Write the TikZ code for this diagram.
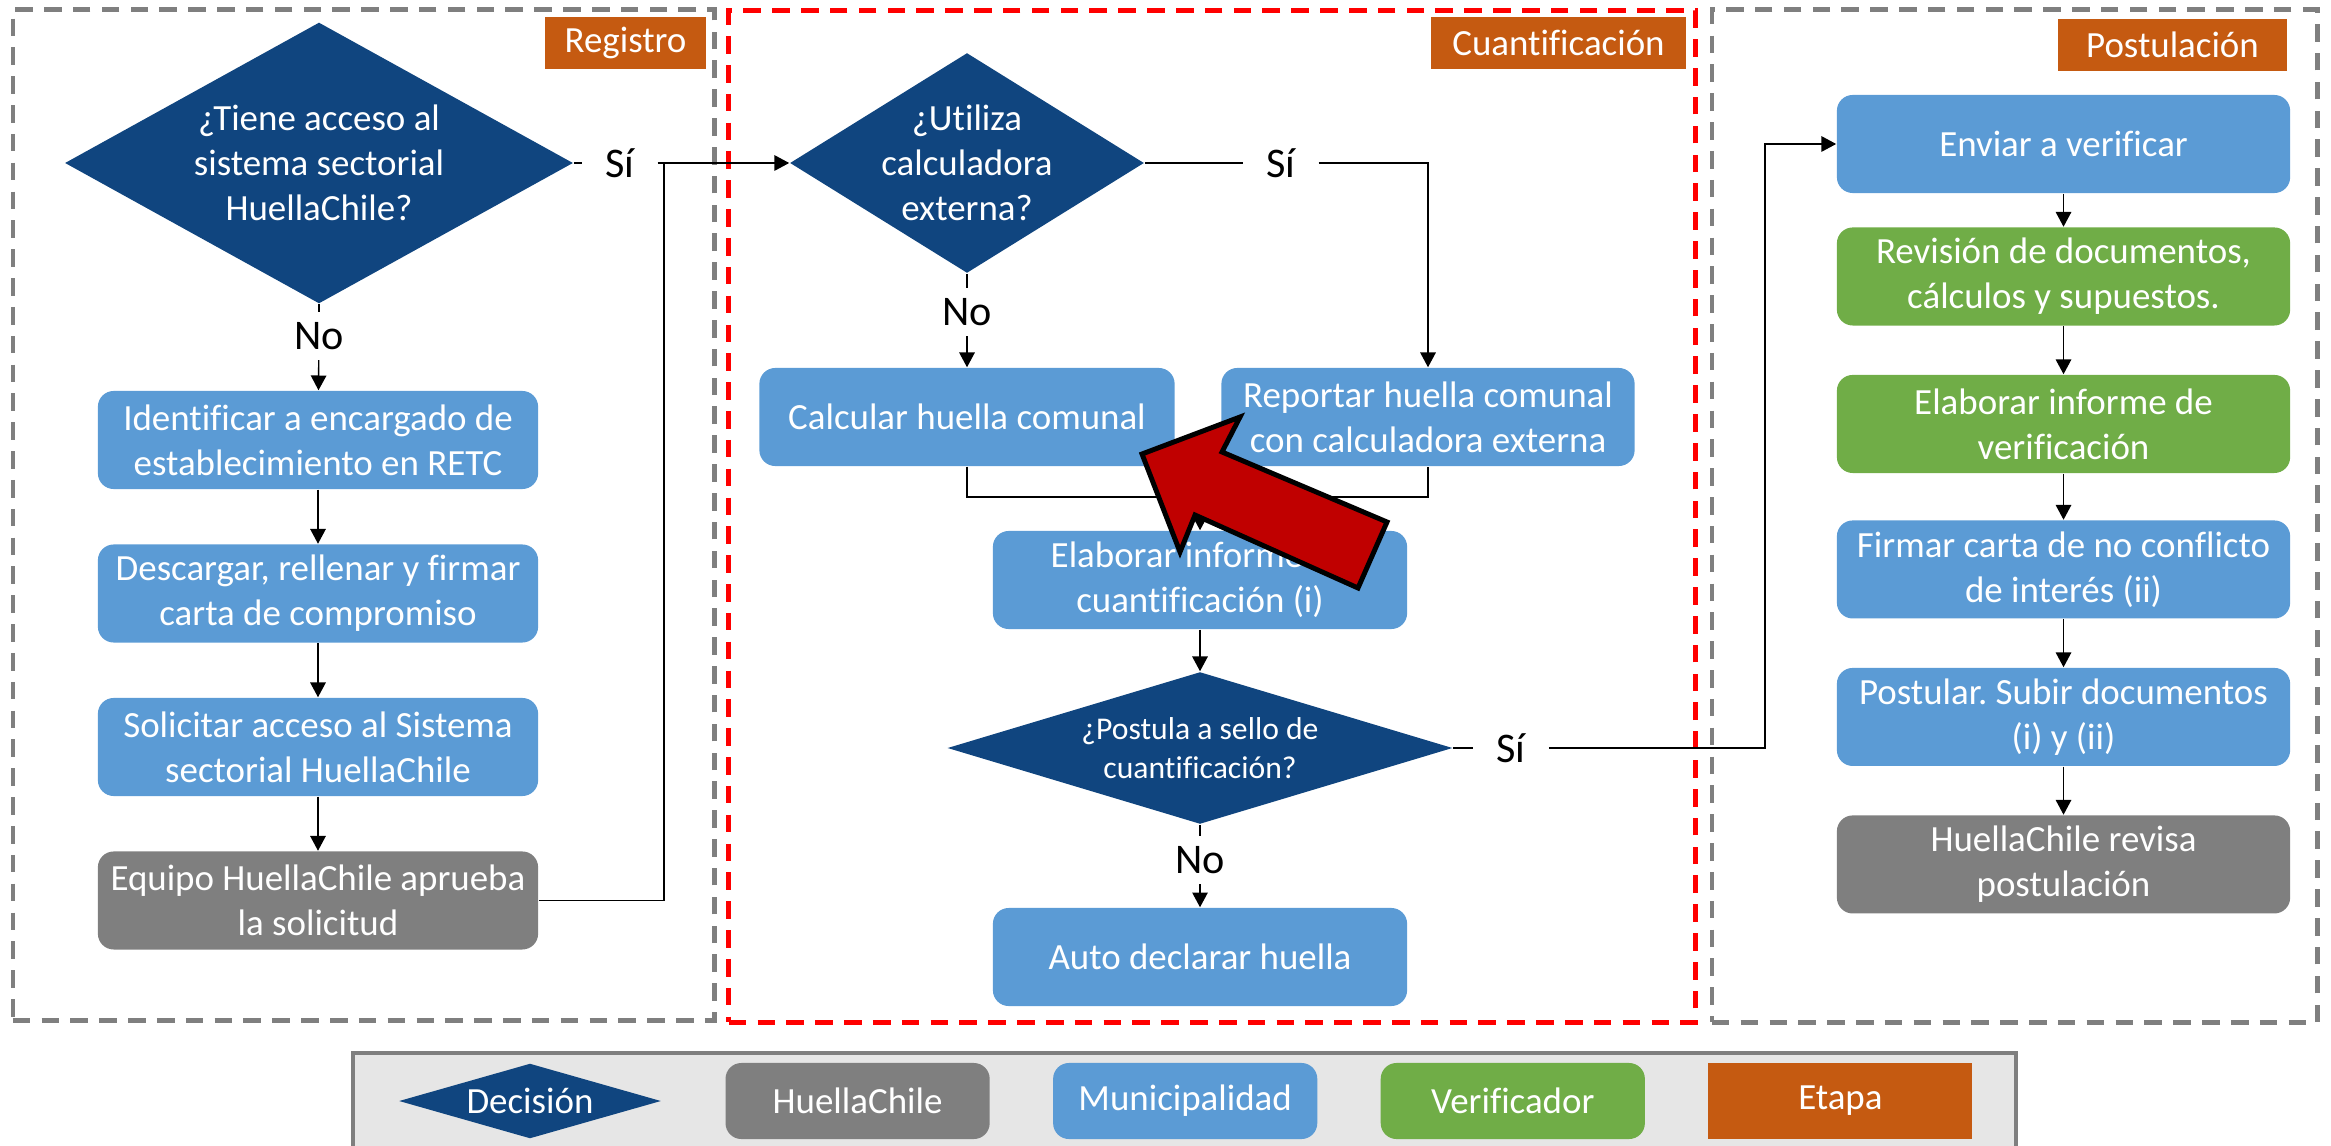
\documentclass[tikz,border=0pt]{standalone}
\usepackage{fontspec}
\setmainfont[Ligatures=NoCommon]{Carlito}
\usetikzlibrary{arrows.meta,positioning,shapes.geometric}
\frenchspacing

\definecolor{decblue}{HTML}{10457F}
\definecolor{muniblue}{HTML}{5B9BD5}
\definecolor{verigreen}{HTML}{70AD47}
\definecolor{huellagray}{HTML}{7F7F7F}
\definecolor{etapaorange}{HTML}{C55A11}
\definecolor{arrowred}{HTML}{C00000}
\definecolor{legendgray}{HTML}{E6E6E6}

\begin{document}
\begin{tikzpicture}[
  x=0.01cm, y=-0.01cm,
  >={Triangle[length=4.2pt, width=4.4pt]},
  font=\fontsize{10.5}{12.8}\selectfont,
  box/.style={rectangle, rounded corners=4.5pt, text=white, align=center, inner sep=0pt, minimum height=0.98cm},
  muni/.style={box, fill=muniblue},
  veri/.style={box, fill=verigreen},
  huella/.style={box, fill=huellagray},
  decision/.style={diamond, fill=decblue, inner sep=0pt},
  dtext/.style={text=white, align=center},
  etapa/.style={rectangle, fill=etapaorange, text=white, inner sep=0pt, minimum height=0.52cm},
  stage/.style={draw=huellagray, line width=1.3pt, dash pattern=on 5pt off 3.2pt, inner sep=0pt},
  answer/.style={inner sep=0pt, minimum width=0.74cm, minimum height=0.47cm, font=\fontsize{12}{14}\selectfont},
  highlight/.style={fill=arrowred, draw=black, line width=1.4pt, line join=miter}
]
\useasboundingbox (0,0) rectangle (2331,1146);

% Stages
\node[stage, minimum width=7.01cm, minimum height=10.1cm] (registro) at (363.5,515) {};
\node[stage, draw=red, minimum width=9.66cm, minimum height=10.11cm] (cuantificacion) at (1212,516.5) {};
\node[stage, minimum width=6.05cm, minimum height=10.12cm] (postulacion) at (2014.5,516) {};
\node[etapa, minimum width=1.61cm] (etregistro) at (625.5,43) {Registro};
\node[etapa, minimum width=2.55cm] (etcuant) at (1558.5,43) {Cuantificación};
\node[etapa, minimum width=2.29cm] (etpost) at (2172.5,45) {Postulación};

% Registro
\node[decision, minimum width=5.08cm, minimum height=2.81cm,
  label={[dtext]center:{¿Tiene acceso al\\sistema sectorial\\HuellaChile?}}] (acceso) at (319,163) {};
\node[answer] (siacceso) at (620,163) {Sí};
\node[answer] (noacceso) at (319,336) {No};
\node[muni, minimum width=4.4cm] (identificar) at (318,440) {Identificar a encargado de\\establecimiento en RETC};
\node[muni, minimum width=4.4cm, below=0.54cm of identificar] (descargar) {Descargar, rellenar y firmar\\carta de compromiso};
\node[muni, minimum width=4.4cm, below=0.54cm of descargar] (solicitar) {Solicitar acceso al Sistema\\sectorial HuellaChile};
\node[huella, minimum width=4.4cm, below=0.54cm of solicitar] (equipo) {Equipo HuellaChile aprueba\\la solicitud};
\coordinate (cruce) at (664,163);

% Cuantificacion
\node[decision, minimum width=3.54cm, minimum height=2.2cm,
  label={[dtext]center:{¿Utiliza\\calculadora\\externa?}}] (externa) at (967,163) {};
\node[answer] (siexterna) at (1281,163) {Sí};
\node[answer] (noexterna) at (967,312) {No};
\node[muni, minimum width=4.15cm] (calcular) at (967,417) {Calcular huella comunal};
\node[muni, minimum width=4.13cm] (reportar) at (1428,417) {Reportar huella comunal\\con calculadora externa};
\coordinate (junta) at (1200,497);
\node[muni, minimum width=4.14cm] (informe) at (1200,580) {Elaborar informe de\\cuantificación (i)};
\node[decision, minimum width=5.05cm, minimum height=1.52cm,
  label={[dtext, font=\fontsize{9}{11}\selectfont]center:{¿Postula a sello de\\cuantificación?}}] (postula) at (1200,748) {};
\node[answer] (sipostula) at (1511,748) {Sí};
\node[answer] (nopostula) at (1200,860) {No};
\node[muni, minimum width=4.14cm] (autodeclarar) at (1200,957) {Auto declarar huella};
\coordinate (subida) at (1765,400);

% Postulacion
\node[muni, minimum width=4.53cm] (enviar) at (2063.5,144) {Enviar a verificar};
\node[veri, minimum width=4.53cm, below=0.33cm of enviar] (revision) {Revisión de documentos,\\cálculos y supuestos.};
\node[veri, minimum width=4.53cm, below=0.48cm of revision] (informever) {Elaborar informe de\\verificación};
\node[muni, minimum width=4.53cm, below=0.46cm of informever] (firmar) {Firmar carta de no conflicto\\de interés (ii)};
\node[muni, minimum width=4.53cm, below=0.48cm of firmar] (postular) {Postular. Subir documentos\\(i) y (ii)};
\node[huella, minimum width=4.53cm, below=0.48cm of postular] (revisa) {HuellaChile revisa\\postulación};

% Edges
\draw (acceso) -- (siacceso);
\draw (siacceso) -- (cruce);
\draw (acceso) -- (noacceso);
\draw[->] (noacceso) -- (identificar);
\draw[->] (identificar) -- (descargar);
\draw[->] (descargar) -- (solicitar);
\draw[->] (solicitar) -- (equipo);
\draw[->] (equipo) -| (cruce) -- (externa);
\draw (externa) -- (siexterna);
\draw[->] (siexterna) -| (reportar);
\draw (externa) -- (noexterna);
\draw[->] (noexterna) -- (calcular);
\draw (calcular) |- (junta) -| (reportar);
\draw[->] (junta) -- (informe);
\draw[->] (informe) -- (postula);
\draw (postula) -- (sipostula);
\draw[->] (sipostula) -| (subida) |- (enviar);
\draw (postula) -- (nopostula);
\draw[->] (nopostula) -- (autodeclarar);
\draw[->] (enviar) -- (revision);
\draw[->] (revision) -- (informever);
\draw[->] (informever) -- (firmar);
\draw[->] (firmar) -- (postular);
\draw[->] (postular) -- (revisa);

% Highlight arrow
\draw[highlight] (1142,454) -- (1240,417) -- (1222,452) -- (1387,522) -- (1358,588) -- (1195,515) -- (1180,552) -- cycle;

% Legend
\node[rectangle, fill=legendgray, draw=huellagray, line width=1pt, inner sep=0pt, anchor=north west,
  minimum width=16.62cm, minimum height=1.1cm] (leyenda) at (351,1051) {};
\node[decision, minimum width=2.62cm, minimum height=0.75cm,
  label={[dtext]center:Decisión}] (legdecision) at (530,1101) {};
\node[huella, minimum width=2.64cm, minimum height=0.76cm, right=0.63cm of legdecision] (leghuella) {HuellaChile};
\node[muni, minimum width=2.64cm, minimum height=0.76cm, right=0.62cm of leghuella] (legmuni) {Municipalidad};
\node[veri, minimum width=2.64cm, minimum height=0.76cm, right=0.62cm of legmuni] (legveri) {Verificador};
\node[etapa, minimum width=2.64cm, minimum height=0.76cm, right=0.62cm of legveri] (legetapa) {Etapa};

\end{tikzpicture}
\end{document}
